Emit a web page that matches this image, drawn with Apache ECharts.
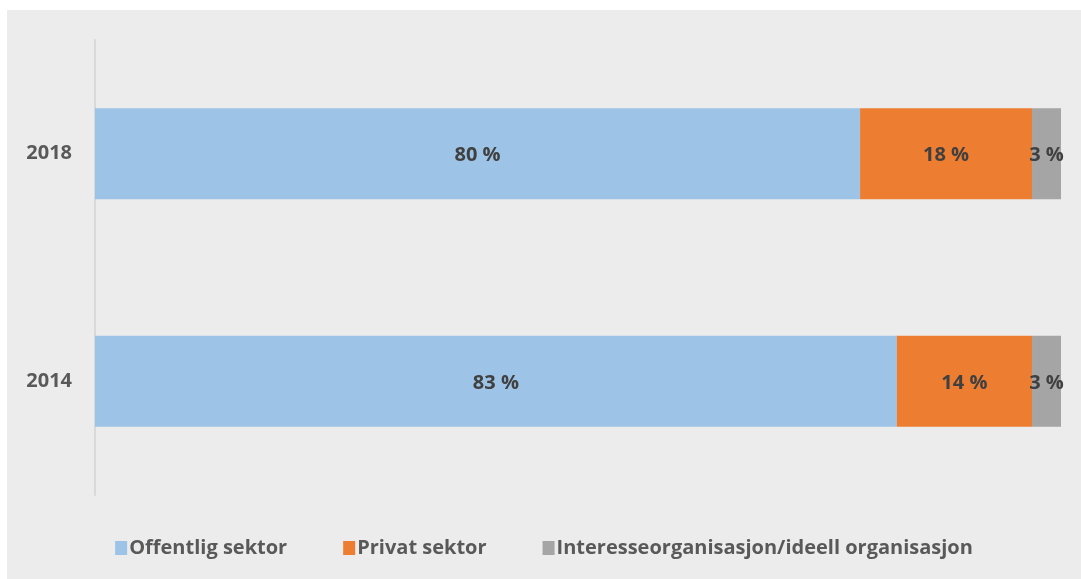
<!DOCTYPE html>
<html>
<head>
<meta charset="utf-8">
<script src="https://cdn.jsdelivr.net/npm/echarts@6/dist/echarts.min.js"></script>
<style>
  html, body { margin: 0; padding: 0; background: #fff; }
  #chart { position: absolute; left: 7px; top: 10px; width: 1074px; height: 569px; background: #ececec; }
</style>
</head>
<body>
<div id="chart"></div>
<script>
  // data
  var years = ['2014', '2018']
  var offentlig = [83.0, 79.2]
  var privat = [14.0, 17.8]
  var interesse = [3.0, 3.0]
  var offentligLabels = ['83 %', '80 %']
  var privatLabels = ['14 %', '18 %']
  var interesseLabels = ['3 %', '3 %']

  var font = '"Open Sans", sans-serif'

  function bar(name, values, labels, color) {
    return {
      name: name,
      type: 'bar',
      stack: 'total',
      barWidth: '40%',
      data: values,
      itemStyle: { color: color },
      label: {
        show: true,
        position: 'inside',
        offset: [0, 2],
        formatter: function (p) { return labels[p.dataIndex] },
        color: '#404040',
        fontFamily: font,
        fontWeight: 'bold',
        fontSize: 20
      },
      animation: false
    }
  }

  var chart = echarts.init(document.getElementById('chart'))
  chart.setOption({
    backgroundColor: '#ececec',
    grid: { left: 88, right: 20, top: 30, bottom: 84 },
    legend: {
      bottom: 16,
      left: 'center',
      itemWidth: 12,
      itemHeight: 14,
      itemGap: 56,
      itemStyle: { borderWidth: 0 },
      icon: 'rect',
      textStyle: { color: '#595959', fontFamily: font, fontWeight: 'bold', fontSize: 20, padding: [0, 0, 0, -3] },
      data: ['Offentlig sektor', 'Privat sektor', 'Interesseorganisasjon/ideell organisasjon']
    },
    xAxis: {
      type: 'value',
      min: 0,
      max: 100,
      show: false
    },
    yAxis: {
      type: 'category',
      data: years,
      axisLine: { show: true, lineStyle: { color: '#d9d9d9', width: 2 } },
      axisTick: { show: false },
      axisLabel: { color: '#595959', fontFamily: font, fontWeight: 'bold', fontSize: 20, margin: 23 }
    },
    series: [
      bar('Offentlig sektor', offentlig, offentligLabels, '#9dc3e6'),
      bar('Privat sektor', privat, privatLabels, '#ed7d31'),
      bar('Interesseorganisasjon/ideell organisasjon', interesse, interesseLabels, '#a5a5a5')
    ]
  })
</script>
</body>
</html>
